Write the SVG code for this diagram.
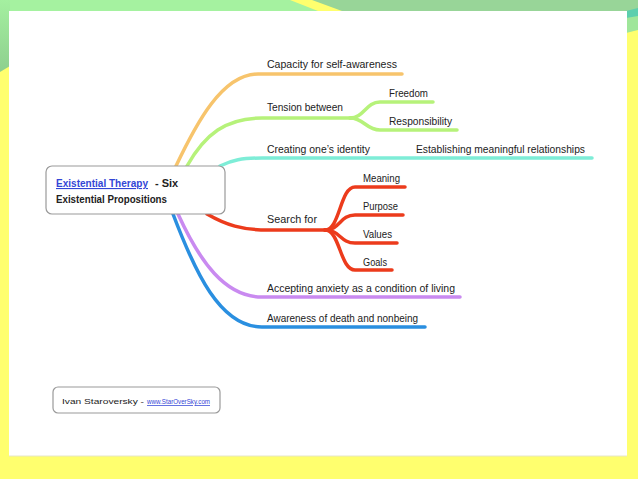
<svg xmlns="http://www.w3.org/2000/svg" width="638" height="479" viewBox="0 0 638 479">
<defs>
<linearGradient id="leftg" x1="0" y1="0" x2="0" y2="1">
<stop offset="0" stop-color="#a4f0a0"/>
<stop offset="1" stop-color="#8ecf8e"/>
</linearGradient>
<style>
.lbl{font-family:"Liberation Sans",Arial,sans-serif;font-size:11px;fill:#222}
.ctr{font-family:"Liberation Sans",Arial,sans-serif;font-size:11px;font-weight:bold;fill:#222}
.foot{font-family:"Liberation Sans",Arial,sans-serif;font-size:7.5px;fill:#222}
.link{fill:#3346d6;text-decoration:underline}
.br{fill:none;stroke-width:3.5;stroke-linecap:round}
</style>
</defs>
<rect x="0" y="0" width="638" height="479" fill="#ffff6e"/>
<polygon points="0,0 290,0 318,11 0,11" fill="#a5f2a0"/>
<polygon points="312,0 638,0 638,11 342,11" fill="#98d598"/>
<polygon points="0,0 10,0 10,66 0,72" fill="url(#leftg)"/>
<polygon points="626,11 638,8 638,22 626,28" fill="#5ccfae"/>
<polygon points="626,18 638,16 638,30 626,33" fill="#9fe69a"/>
<rect x="9" y="11" width="618" height="445" fill="#ffffff"/>
<line x1="9" y1="456" x2="627" y2="456" stroke="#e6e6c8" stroke-width="1"/>
<g id="connectors">
<path class="br" stroke="#f7c46c" d="M176,166 C196,124 222,74 258,74 L402,74"/>
<path class="br" stroke="#b6f27a" d="M187,166 C205,134 226,118 262,118 L352,118"/>
<path class="br" stroke="#b6f27a" d="M350,118 C364,118 366,102 380,102 L433,102"/>
<path class="br" stroke="#b6f27a" d="M350,118 C364,118 366,130 380,130 L457,130"/>
<path class="br" stroke="#7eedd7" d="M220,166 C232,160 242,158 262,158 L592,158"/>
<path class="br" stroke="#ec3b1c" d="M207,214 C226,225 242,230 268,230 L327,230"/>
<path class="br" stroke="#ec3b1c" d="M325,230 C340,230 340,187 355,187 L405,187"/>
<path class="br" stroke="#ec3b1c" d="M325,230 C340,230 340,215 355,215 L403,215"/>
<path class="br" stroke="#ec3b1c" d="M325,230 C340,230 340,243 355,243 L397,243"/>
<path class="br" stroke="#ec3b1c" d="M325,230 C340,230 340,270 355,270 L392,270"/>
<path class="br" stroke="#c98af0" d="M178,214 C200,262 225,297 262,297 L460,297"/>
<path class="br" stroke="#2a8fe0" d="M173,214 C195,272 220,327 262,327 L425,327"/>
</g>
<g id="center">
<rect x="46" y="166" width="179" height="48" rx="6" fill="#ffffff" stroke="#9a9a9a" stroke-width="1.2"/>
<text class="ctr link" x="56" y="187" textLength="92" lengthAdjust="spacingAndGlyphs">Existential Therapy</text>
<text class="ctr" x="155" y="187">- Six</text>
<text class="ctr" x="56" y="203" textLength="111" lengthAdjust="spacingAndGlyphs">Existential Propositions</text>
</g>
<g id="n-capacity"><text class="lbl" x="267" y="68" textLength="130" lengthAdjust="spacingAndGlyphs">Capacity for self-awareness</text></g>
<g id="n-tension"><text class="lbl" x="267" y="111" textLength="76" lengthAdjust="spacingAndGlyphs">Tension between</text></g>
<g id="n-freedom"><text class="lbl" x="389" y="97" textLength="39" lengthAdjust="spacingAndGlyphs">Freedom</text></g>
<g id="n-responsibility"><text class="lbl" x="389" y="125" textLength="63" lengthAdjust="spacingAndGlyphs">Responsibility</text></g>
<g id="n-identity"><text class="lbl" x="267" y="153" textLength="103" lengthAdjust="spacingAndGlyphs">Creating one’s identity</text></g>
<g id="n-relationships"><text class="lbl" x="416" y="153" textLength="169" lengthAdjust="spacingAndGlyphs">Establishing meaningful relationships</text></g>
<g id="n-search"><text class="lbl" x="267" y="223" textLength="50" lengthAdjust="spacingAndGlyphs">Search for</text></g>
<g id="n-meaning"><text class="lbl" x="363" y="182" textLength="37" lengthAdjust="spacingAndGlyphs">Meaning</text></g>
<g id="n-purpose"><text class="lbl" x="363" y="210" textLength="35" lengthAdjust="spacingAndGlyphs">Purpose</text></g>
<g id="n-values"><text class="lbl" x="363" y="238" textLength="29" lengthAdjust="spacingAndGlyphs">Values</text></g>
<g id="n-goals"><text class="lbl" x="363" y="266" textLength="24" lengthAdjust="spacingAndGlyphs">Goals</text></g>
<g id="n-anxiety"><text class="lbl" x="267" y="292" textLength="188" lengthAdjust="spacingAndGlyphs">Accepting anxiety as a condition of living</text></g>
<g id="n-death"><text class="lbl" x="267" y="322" textLength="151" lengthAdjust="spacingAndGlyphs">Awareness of death and nonbeing</text></g>
<g id="footer">
<rect x="53" y="387" width="167" height="26" rx="5" fill="#ffffff" stroke="#9a9a9a" stroke-width="1.2"/>
<text class="foot" x="62" y="404" textLength="82" lengthAdjust="spacingAndGlyphs">Ivan Staroversky -</text>
<text class="foot link" x="147" y="404" textLength="63" lengthAdjust="spacingAndGlyphs">www.StarOverSky.com</text>
</g>
</svg>
